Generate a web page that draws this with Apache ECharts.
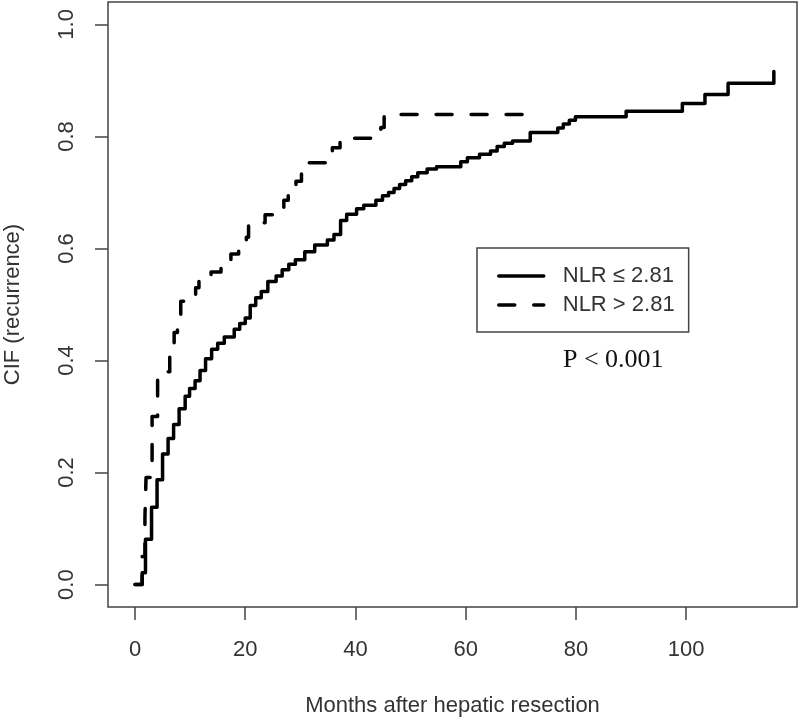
<!DOCTYPE html>
<html>
<head>
<meta charset="utf-8">
<script src="https://cdn.jsdelivr.net/npm/echarts@6/dist/echarts.min.js"></script>
<style>
  html, body { margin: 0; padding: 0; background: #fff; }
  #chart { width: 800px; height: 720px; }
</style>
</head>
<body>
<div id="chart"></div>
<script>
// ---- data ----
const seriesNames = ['NLR \u2264 2.81', 'NLR > 2.81'];

// NLR <= 2.81 : jump times (months) and CIF after each jump
const monthsLow = [0, 1.3, 1.9, 3.0, 4.0, 5.0, 6.0, 7.0, 8.0, 9.1, 9.9, 10.9, 11.8, 12.8, 13.9, 15.0, 16.2,
  18.0, 19.0, 20.0, 20.9, 21.9, 22.9, 24.1, 25.6, 26.7, 27.9, 29.1, 30.8, 32.6, 34.9, 36.1, 37.3, 38.4,
  40.2, 41.5, 43.7, 44.9, 46.0, 47.0, 48.0, 49.1, 50.2, 51.3, 53.0, 54.7, 59.1, 60.3, 62.5, 64.5, 65.7,
  67.0, 68.5, 71.7, 76.7, 77.7, 78.8, 79.9, 89.1, 99.3, 103.4, 107.6, 115.9];
const cifLow = [0, 0.021, 0.081, 0.138, 0.187, 0.233, 0.261, 0.286, 0.314, 0.336, 0.35, 0.364, 0.382, 0.403, 0.42, 0.431, 0.442,
  0.456, 0.466, 0.476, 0.498, 0.512, 0.523, 0.541, 0.551, 0.562, 0.572, 0.58, 0.594, 0.606, 0.615, 0.625, 0.65, 0.661,
  0.671, 0.677, 0.686, 0.694, 0.700, 0.707, 0.714, 0.721, 0.728, 0.735, 0.742, 0.746, 0.755, 0.762, 0.768, 0.774, 0.782,
  0.788, 0.792, 0.807, 0.815, 0.822, 0.829, 0.835, 0.845, 0.859, 0.875, 0.895, 0.916];

// NLR > 2.81
const monthsHigh = [0, 1.3, 1.8, 2.0, 3.1, 4.1, 5.5, 6.3, 7.1, 7.7, 8.3, 11.0, 11.6, 13.8, 15.6, 17.4, 18.8,
  20.2, 20.6, 23.6, 25.0, 27.0, 27.8, 29.2, 30.2, 31.2, 35.8, 37.2, 44.6, 45.2, 71.7];
const cifHigh = [0, 0.05, 0.12, 0.191, 0.30, 0.365, 0.38, 0.417, 0.45, 0.47, 0.506, 0.53, 0.548, 0.558, 0.573, 0.59, 0.604,
  0.62, 0.646, 0.66, 0.673, 0.686, 0.696, 0.72, 0.739, 0.753, 0.78, 0.797, 0.816, 0.839, 0.839];

const xTicks = [0, 20, 40, 60, 80, 100];
const yTicks = [0, 0.2, 0.4, 0.6, 0.8, 1.0];
const xTitle = 'Months after hepatic resection';
const yTitle = 'CIF (recurrence)';
const pText = 'P < 0.001';

// ---- chart ----
const SANS = '"Liberation Sans", Arial, sans-serif';
const chart = echarts.init(document.getElementById('chart'), null, { renderer: 'canvas' });

const toPairs = (xs, ys) => xs.map((x, i) => [x, ys[i]]);

chart.setOption({
  animation: false,
  backgroundColor: '#fff',
  grid: {
    left: 108, right: 3, top: 2, bottom: 113,
    containLabel: false, outerBoundsMode: 'none',
    show: true, borderColor: '#444', borderWidth: 1.5, backgroundColor: 'transparent'
  },
  xAxis: {
    type: 'value', min: -4.9, max: 120.1,
    axisLine: { show: false, onZero: false },
    splitLine: { show: false },
    axisTick: { show: true, inside: false, customValues: xTicks, length: 13, lineStyle: { color: '#444', width: 1.5 } },
    axisLabel: { customValues: xTicks, margin: 32, color: '#333', fontSize: 22, fontFamily: SANS },
    name: xTitle, nameLocation: 'middle', nameGap: 88,
    nameTextStyle: { color: '#333', fontSize: 22, fontFamily: SANS }
  },
  yAxis: {
    type: 'value', min: -0.04, max: 1.04,
    axisLine: { show: false, onZero: false },
    splitLine: { show: false },
    axisTick: { show: true, inside: false, customValues: yTicks, length: 13, lineStyle: { color: '#444', width: 1.5 } },
    axisLabel: { customValues: yTicks, rotate: 90, margin: 30, color: '#333', fontSize: 22, fontFamily: SANS,
      formatter: v => v.toFixed(1) },
    name: yTitle, nameLocation: 'middle', nameGap: 84,
    nameTextStyle: { color: '#333', fontSize: 22, fontFamily: SANS }
  },
  legend: {
    orient: 'vertical', left: 477, top: 248,
    padding: [17, 14, 16, 20],
    borderColor: '#444', borderWidth: 1.5,
    itemWidth: 45, itemHeight: 14, itemGap: 7,
    itemStyle: { opacity: 0, borderWidth: 0 },
    lineStyle: { width: 3.5 },
    textStyle: { color: '#333', fontSize: 22, fontFamily: SANS, lineHeight: 22, padding: [0, 0, 0, 14] },
    data: seriesNames
  },
  series: [
    {
      name: seriesNames[0], type: 'line', step: 'end', symbol: 'none', showSymbol: false,
      lineStyle: { color: '#000', width: 3.5, cap: 'round', join: 'round' },
      itemStyle: { color: '#000' },
      data: toPairs(monthsLow, cifLow)
    },
    {
      name: seriesNames[1], type: 'line', step: 'end', symbol: 'none', showSymbol: false,
      lineStyle: { color: '#000', width: 3.5, type: [16, 19], cap: 'round', join: 'round' },
      itemStyle: { color: '#000' },
      data: toPairs(monthsHigh, cifHigh)
    }
  ],
  graphic: [
    { type: 'text', left: 563, top: 347,
      style: { text: pText, font: '26px "Liberation Serif", "Times New Roman", serif', fill: '#111' } }
  ]
});
</script>
</body>
</html>
